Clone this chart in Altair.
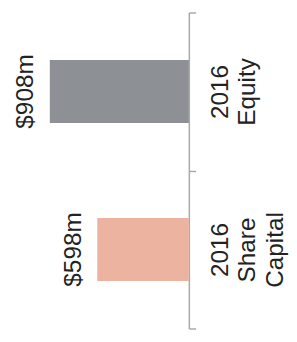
import altair as alt
import pandas as pd

categories = ["2016\nEquity", "2016\nShare\nCapital"]
values = [908, 598]
value_labels = ["$908m", "$598m"]
colors = ["#8d9094", "#edb3a1"]

df = pd.DataFrame({"cat": categories, "value": values, "label": value_labels})

FONT = "Liberation Sans"
TEXT_COLOR = "#222222"

y_enc = alt.Y(
    "cat:N",
    sort=categories,
    scale=alt.Scale(paddingInner=0, paddingOuter=0),
    axis=alt.Axis(
        orient="right",
        title=None,
        domainColor="#a8a8a8",
        domainWidth=1.5,
        tickColor="#a8a8a8",
        tickWidth=1.5,
        tickSize=7,
        tickBand="extent",
        labelAngle=270,
        labelAlign="center",
        labelBaseline="top",
        labelFont=FONT,
        labelFontSize=25,
        labelLineHeight=28,
        labelColor=TEXT_COLOR,
        labelPadding=13,
        labelOverlap=False,
        labelExpr="split(datum.label, '\\n')",
        grid=False,
    ),
)

x_enc = alt.X(
    "value:Q",
    scale=alt.Scale(reverse=True, nice=False, zero=True),
    axis=None,
)

bars = alt.Chart(df).mark_bar(height={"band": 0.4}).encode(
    x=x_enc,
    y=y_enc,
    color=alt.Color("cat:N", scale=alt.Scale(domain=categories, range=colors), legend=None),
)

text = alt.Chart(df).mark_text(
    angle=270,
    align="center",
    baseline="alphabetic",
    dy=-17,
    fontSize=25,
    font=FONT,
    color=TEXT_COLOR,
).encode(
    x=x_enc,
    y=alt.Y("cat:N", sort=categories),
    text="label:N",
)

chart = alt.layer(bars, text).properties(
    width=143,
    height=325,
    autosize=alt.AutoSizeParams(type="none"),
    padding={"left": 43, "top": 0, "right": 103, "bottom": 0},
).configure_view(strokeWidth=0)

chart.save("out.html", embed_options={"renderer": "svg", "actions": False})
